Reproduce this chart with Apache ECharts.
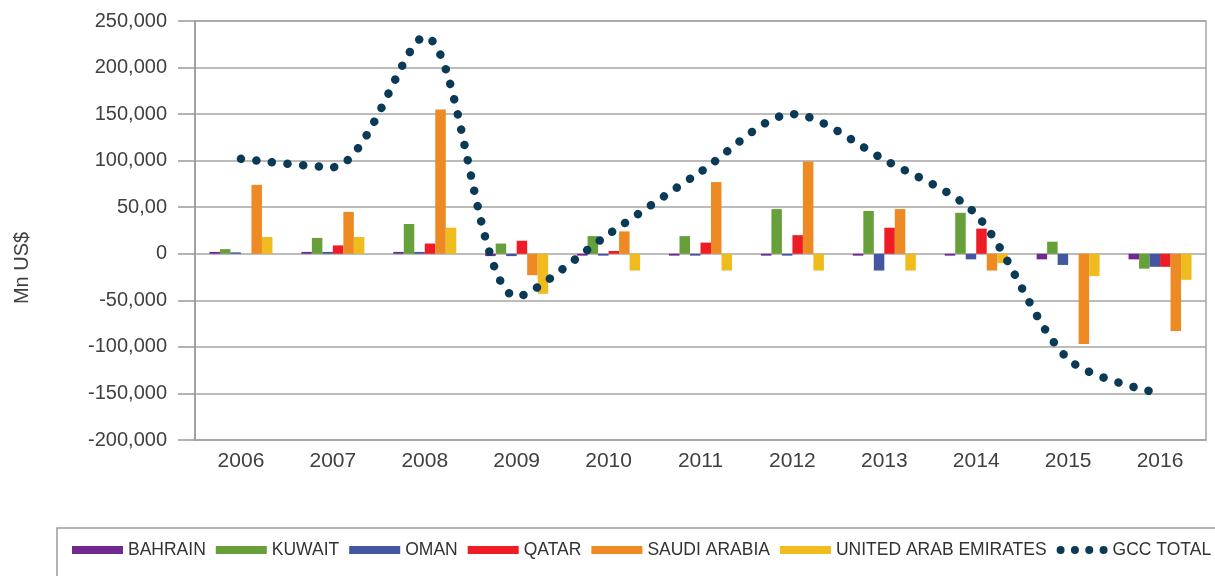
<!DOCTYPE html>
<html>
<head>
<meta charset="utf-8">
<script src="https://cdn.jsdelivr.net/npm/echarts@6/dist/echarts.min.js"></script>
<style>
html,body{margin:0;padding:0;background:#fff;}
#chart{width:1215px;height:576px;}
</style>
</head>
<body>
<div id="chart"></div>
<script>
const years = ['2006','2007','2008','2009','2010','2011','2012','2013','2014','2015','2016'];
const bahrain = [2000, 2000, 2000, -2500, -2000, -2000, -2000, -2000, -2000, -6000, -6000];
const kuwait  = [5000, 17000, 32000, 11000, 19000, 19000, 48000, 46000, 44000, 13000, -16000];
const oman    = [1500, 2000, 2000, -2500, -2000, -2000, -2000, -18000, -6000, -12000, -14000];
const qatar   = [0, 9000, 11000, 14000, 3000, 12000, 20000, 28000, 27000, 0, -14000];
const saudi   = [74000, 45000, 155000, -23000, 24000, 77000, 99000, 48000, -18000, -97000, -83000];
const uae     = [18000, 18000, 28000, -43000, -18000, -18000, -18000, -18000, -10000, -24000, -28000];
const gccTotal = [102000, 93000, 233000, -46000, 21000, 88000, 150000, 101000, 42000, -113000, -150000];
const yTickLabels = ['-200,000','-150,000','-100,000','-50,000','0','50,00','100,000','150,000','200,000','250,000'];
const yMin = -200000, yMax = 250000, yStep = 50000;

const barNames = ['BAHRAIN','KUWAIT','OMAN','QATAR','SAUDI ARABIA','UNITED ARAB EMIRATES'];
const barData = [bahrain, kuwait, oman, qatar, saudi, uae];
const barColors = ['#70298f','#67a03a','#44569f','#ee1c25','#ee8a23','#efbb1f'];
const gccColor = '#0b3a56';
const FONT = 'Liberation Sans, Arial, sans-serif';

const chart = echarts.init(document.getElementById('chart'), null, {renderer:'canvas'});

const series = barNames.map((n, i) => ({
  name: n,
  type: 'bar',
  data: barData[i],
  barWidth: 10.5,
  barGap: '0%',
  itemStyle: {color: barColors[i]},
  z: 2
}));
series.push({
  name: 'GCC TOTAL',
  type: 'line',
  data: gccTotal,
  smooth: 0.3,
  symbol: 'none',
  itemStyle: {color: gccColor},
  lineStyle: {color: gccColor, width: 8.5, type: [0.1, 15.5], cap: 'round'},
  z: 5
});

const dotIcon = 'path://M0,4a4,4 0 1,0 8,0a4,4 0 1,0 -8,0z M14.33,4a4,4 0 1,0 8,0a4,4 0 1,0 -8,0z M28.67,4a4,4 0 1,0 8,0a4,4 0 1,0 -8,0z M43,4a4,4 0 1,0 8,0a4,4 0 1,0 -8,0z';

chart.setOption({
  animation: false,
  backgroundColor: '#ffffff',
  grid: {left: 195, right: 9, top: 21, bottom: 136, show: true, borderColor: '#a6a6a6', borderWidth: 1.5, containLabel: false, outerBoundsMode: 'none'},
  legend: {
    type: 'plain',
    left: 57, top: 528,
    width: 1190,
    padding: [13, 20, 40, 15],
    borderColor: '#9a9a9a', borderWidth: 1.5,
    itemWidth: 51, itemHeight: 8, itemGap: 10,
    textStyle: {fontFamily: FONT, fontSize: 17.5, color: '#333333'},
    data: barNames.map(n => ({name: n, icon: 'rect'})).concat([{name: 'GCC TOTAL', icon: dotIcon}])
  },
  graphic: [{
    type: 'text',
    x: 22, y: 268,
    rotation: Math.PI / 2,
    style: {text: 'Mn US$', font: '20px ' + FONT, fill: '#404040', textAlign: 'center', textVerticalAlign: 'middle'}
  }],
  xAxis: {
    type: 'category',
    data: years,
    axisLine: {show: true, onZero: false, lineStyle: {color: '#a6a6a6', width: 1.5}},
    axisTick: {show: false},
    axisLabel: {fontFamily: FONT, fontSize: 21, color: '#404040', margin: 11},
    splitLine: {show: false}
  },
  yAxis: {
    type: 'value',
    min: yMin, max: yMax, interval: yStep,
    axisLine: {show: true, lineStyle: {color: '#999999', width: 1.5}},
    axisTick: {show: true, length: 17, lineStyle: {color: '#999999', width: 1.5}},
    axisLabel: {
      fontFamily: FONT, fontSize: 20, color: '#404040', margin: 28,
      formatter: v => yTickLabels[Math.round((v - yMin) / yStep)]
    },
    splitLine: {show: true, lineStyle: {color: '#a6a6a6', width: 1.5}}
  },
  series: series
});
</script>
</body>
</html>
